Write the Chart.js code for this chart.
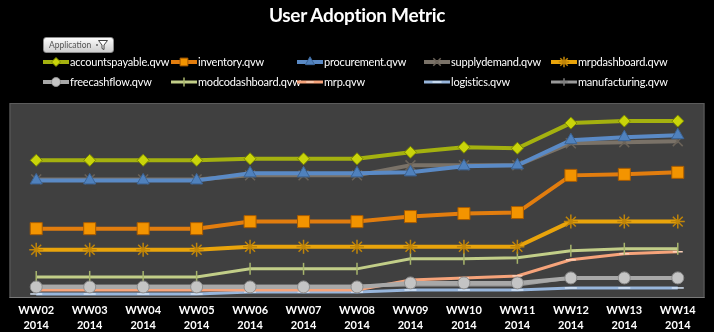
<!DOCTYPE html>
<html>
<head>
<meta charset="utf-8">
<script src="https://cdn.jsdelivr.net/npm/chart.js@4.4.1/dist/chart.umd.min.js"></script>
<style>
  html, body { margin:0; padding:0; background:#000; }
  #wrap { position:relative; width:714px; height:332px; background:#000; overflow:hidden; font-family: Lato, "Open Sans", sans-serif; }
  #title { position:absolute; left:0; width:714px; top:3px; text-align:center; color:#fff; font-weight:bold; font-size:19px; line-height:24px; letter-spacing:-0.3px; }
  #btn { position:absolute; left:43px; top:37px; width:71px; height:16px; border:1px solid #8a8a8a; border-radius:3px; background:linear-gradient(#fbfbfb,#cfcfcf); box-sizing:border-box; }
  #btn span { position:absolute; left:5px; top:1px; font-size:8.5px; line-height:13px; color:#555; }
  #btn svg { position:absolute; right:4px; top:1px; }
  #legend { position:absolute; left:0; top:0; width:714px; height:100px; pointer-events:none; }
  .li { position:absolute; height:14px; display:flex; align-items:center; }
  .li canvas { display:block; }
  .li span { color:#fff; font-size:11px; line-height:14px; margin-left:1px; white-space:nowrap; letter-spacing:-0.2px; }
  #cv { position:absolute; left:0; top:0; }
</style>
</head>
<body>
<div id="wrap">
  <canvas id="cv" width="714" height="338"></canvas>
  <div id="title">User Adoption Metric</div>
  <div id="btn"><span>Application</span>
    <svg width="14" height="12" viewBox="0 0 14 12"><circle cx="2" cy="6" r="0.9" fill="#555"/><path d="M3.5 1.5 L12.5 1.5 L9 6 L9 10.5 L7 9.5 L7 6 Z" fill="#fff" stroke="#444" stroke-width="1"/></svg>
  </div>
  <div id="legend"></div>
</div>
<script>
// ---- data ----
const weeks = ["WW02","WW03","WW04","WW05","WW06","WW07","WW08","WW09","WW10","WW11","WW12","WW13","WW14"];
const year = "2014";
const seriesNames = ["accountspayable.qvw","inventory.qvw","procurement.qvw","supplydemand.qvw","mrpdashboard.qvw",
                     "freecashflow.qvw","modcodashboard.qvw","mrp.qvw","logistics.qvw","manufacturing.qvw"];
const accountspayable = [137,137,137,137,138.5,138.5,138.5,145,150,149,174,176,176];
const inventory       = [69,69,69,69,76,76,76,81,84,85,122,123,125];
const procurement     = [117,117,117,117,124,124,124,125,131,132,157,160,162];
const supplydemand    = [118,118,118,118,122,122,122,132,132,132,154,155,156];
const mrpdashboard    = [48,48,48,48,51,51,51,51,51,51,76,76,76];
const freecashflow    = [11,11,11,11,11,11,11,15,15,15,20,20,20];
const modcodashboard  = [21,21,21,21,29,29,29,39,39,40,47,49,49];
const mrp             = [8,8,8,8,8,8,8,18,20,22,38,44,46];
const logistics       = [4,4,4,4,6,6,6,8,8,8,10,10,10];
const manufacturing   = [12,12,12,12,12,12,12,13,13,13,20,20,20];

const valuesList = [accountspayable, inventory, procurement, supplydemand, mrpdashboard,
                    freecashflow, modcodashboard, mrp, logistics, manufacturing];

// styles per series (same order as names)
const styles = [
  {line:'#a4b10f', fill:'#c9d40a', border:'#7c8800', ps:'rectRot', r:6, w:4, rot:0},
  {line:'#e27d0e', fill:'#f39400', border:'#a85b00', ps:'rect', r:8.5, w:4, rot:0},
  {line:'#5a8ac6', fill:'#4f81bd', border:'#3b6496', ps:'triangle', r:7, w:4, rot:0},
  {line:'#7a7268', fill:'#6b6359', border:'#6b6359', ps:'crossRot', r:7, w:4, rot:0},
  {line:'#e9a40b', fill:'#c78c0a', border:'#c08508', ps:'star', r:7, w:4, rot:0},
  {line:'#a8a8a8', fill:'#c4c4c4', border:'#8c8c8c', ps:'circle', r:6, w:4, rot:0},
  {line:'#c2ce88', fill:'#aab870', border:'#a7b56c', ps:'line', r:6, w:3, rot:90},
  {line:'#f6a37a', fill:'#fbd0b8', border:'#fbd0b8', ps:'line', r:5, w:3, rot:0},
  {line:'#98b6dc', fill:'#d6e4f5', border:'#d6e4f5', ps:'line', r:6, w:3, rot:0},
  {line:'#9a9a9a', fill:'#8a8a8a', border:'#7d7d7d', ps:'cross', r:5, w:3, rot:0}
];

const datasets = seriesNames.map((n,i)=>({
  label:n,
  data:valuesList[i],
  borderColor:styles[i].line,
  backgroundColor:styles[i].fill,
  borderWidth:styles[i].w,
  pointStyle:styles[i].ps,
  pointRadius:styles[i].r,
  pointHoverRadius:styles[i].r,
  pointRotation:styles[i].rot,
  pointBackgroundColor:styles[i].fill,
  pointBorderColor:styles[i].border,
  pointBorderWidth:(styles[i].ps==='line'||styles[i].ps==='cross'||styles[i].ps==='crossRot'||styles[i].ps==='star')?1.5:1,
  tension:0,
  fill:false
}));

const plotBg = {
  id:'plotBg',
  beforeDatasetsDraw(chart){
    const {ctx, chartArea:a} = chart;
    ctx.save();
    ctx.fillStyle = '#404040';
    ctx.fillRect(a.left, a.top, a.right-a.left, a.bottom-a.top);
    ctx.strokeStyle = '#5c5c5c';
    ctx.lineWidth = 1;
    ctx.strokeRect(a.left+0.5, a.top+0.5, a.right-a.left-1, a.bottom-a.top-1);
    ctx.strokeStyle = '#7a7a7a';
    ctx.beginPath(); ctx.moveTo(a.left, a.bottom-0.5); ctx.lineTo(a.right, a.bottom-0.5); ctx.stroke();
    ctx.restore();
  }
};

const chart = new Chart(document.getElementById('cv'), {
  type:'line',
  data:{ labels: weeks.map(w=>[w, year]), datasets },
  options:{
    responsive:false,
    animation:false,
    events:[],
    layout:{ padding:{ top:103, left:7, right:3, bottom:0 } },
    plugins:{ legend:{display:false}, title:{display:false}, tooltip:{enabled:false} },
    scales:{
      x:{
        offset:true,
        grid:{ display:false, drawTicks:false },
        border:{ display:false },
        ticks:{ color:'#ffffff', font:{ family:'Lato', size:11, weight:'bold', lineHeight:15/11 }, padding:5, maxRotation:0, autoSkip:false }
      },
      y:{ display:false, min:0, max:194 }
    }
  },
  plugins:[plotBg]
});

// ---- HTML legend built from datasets ----
const colX = [43,171,297,424,551];
const rowY = [55,75];
const leg = document.getElementById('legend');
chart.data.datasets.forEach((ds,i)=>{
  const item = document.createElement('div');
  item.className='li';
  item.style.left = colX[i%5]+'px';
  item.style.top = rowY[Math.floor(i/5)]+'px';
  const c = document.createElement('canvas');
  c.width=26; c.height=14;
  item.appendChild(c);
  const sp = document.createElement('span');
  sp.textContent = ds.label;
  item.appendChild(sp);
  leg.appendChild(item);
  const g = c.getContext('2d');
  g.strokeStyle = ds.borderColor; g.lineWidth = ds.borderWidth;
  g.beginPath(); g.moveTo(0,7); g.lineTo(26,7); g.stroke();
  if (Chart.helpers && Chart.helpers.drawPoint) {
    g.fillStyle = ds.pointBackgroundColor; g.strokeStyle = ds.pointBorderColor; g.lineWidth = ds.pointBorderWidth;
    Chart.helpers.drawPoint(g, {pointStyle:ds.pointStyle, radius:Math.min(ds.pointRadius*0.75,5.5), rotation:ds.pointRotation, borderWidth:ds.pointBorderWidth}, 13, 7);
  }
});
</script>
</body>
</html>
